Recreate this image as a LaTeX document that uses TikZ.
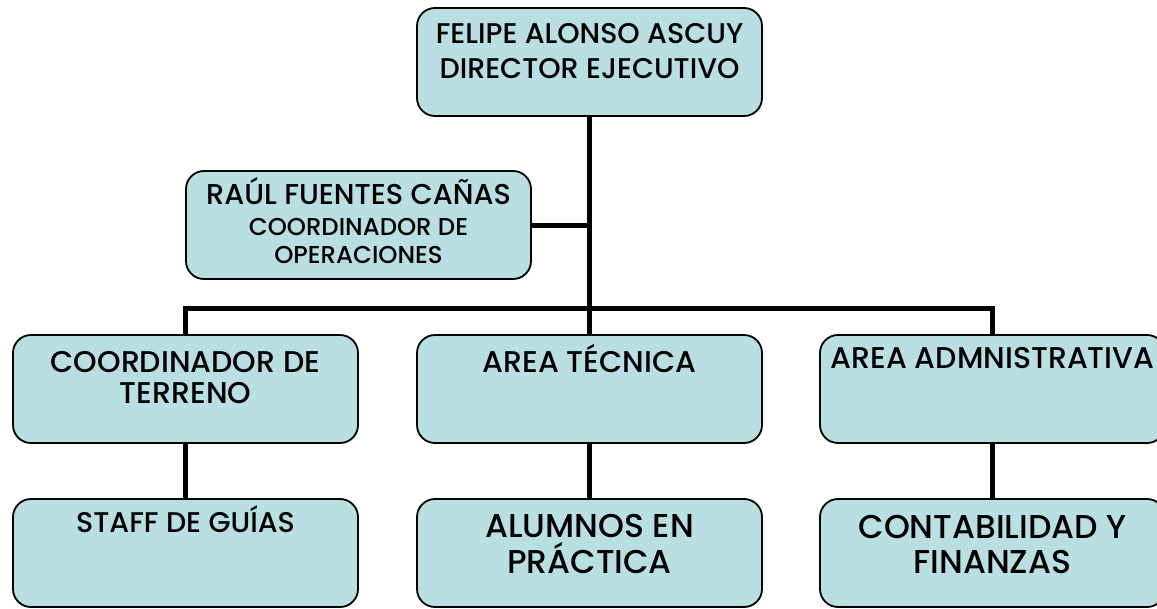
\documentclass[tikz,border=0pt]{standalone}
\usepackage{fontspec}
\setmainfont{Poppins}[UprightFont=* Medium]
\definecolor{boxfill}{RGB}{185,223,227}
\tikzset{
  orgbox/.style={draw=black, fill=boxfill, line width=1.8pt, rounded corners=18pt,
    minimum width=345pt, minimum height=108pt, inner sep=0pt, outer sep=0pt},
  conn/.style={draw=black, line width=5pt, line join=miter},
  txt/.style={anchor=base, inner sep=0pt, text=black},
  fa/.style={font=\fontsize{28.5}{34}\selectfont},
  fb/.style={font=\fontsize{28.7}{32}\selectfont},
  fc/.style={font=\fontsize{24.4}{28}\selectfont},
  fd/.style={font=\fontsize{30}{34}\selectfont},
  fe/.style={font=\fontsize{33}{36}\selectfont},
}
\begin{document}
\begin{tikzpicture}[x=1pt,y=-1pt]
\useasboundingbox (0,0) rectangle (1157,608);
% boxes
\node[orgbox] (top) at (589.5,62) {};
\node[orgbox] (raul) at (358.5,225) {};
\node[orgbox] (ct) at (185.5,389) {};
\node[orgbox] (at) at (589.5,389) {};
\node[orgbox] (aa) at (992.5,389) {};
\node[orgbox] (sg) at (185.5,553) {};
\node[orgbox] (ap) at (589.5,553) {};
\node[orgbox] (cf) at (992.5,553) {};
\coordinate (jn) at (589.5,308);
% connectors
\draw[conn] (top.south) -- (jn);
\draw[conn] (raul.east) -- (raul.east -| top.south);
\draw[conn] (ct.north) -- (ct.north |- jn) -- (aa.north |- jn) -- (aa.north);
\draw[conn] (at.north) -- (at.north |- jn);
\draw[conn] (ct.south) -- (sg.north);
\draw[conn] (at.south) -- (ap.north);
\draw[conn] (aa.south) -- (cf.north);
% texts
\node[txt,fa] (t1) at (589.5,43) {FELIPE ALONSO ASCUY};
\node[txt,fa] (t2) at (589.5,78) {DIRECTOR EJECUTIVO};
\node[txt,fb] (r1) at (358.5,204) {RAÚL FUENTES CAÑAS};
\node[txt,fc] (r2) at (358.5,235.5) {COORDINADOR DE};
\node[txt,fc] (r3) at (358.5,263.5) {OPERACIONES};
\node[txt,fd] (c1) at (185.5,372) {COORDINADOR DE};
\node[txt,fd] (c2) at (185.5,403.5) {TERRENO};
\node[txt,fd] (a1) at (589.5,372) {AREA TÉCNICA};
\node[txt,fd] (d1) at (992.5,368.5) {AREA ADMNISTRATIVA};
\node[txt,fa] (s1) at (185.5,532) {STAFF DE GUÍAS};
\node[txt,fe] (p1) at (589.5,537) {ALUMNOS EN};
\node[txt,fe] (p2) at (589.5,573) {PRÁCTICA};
\node[txt,fe] (f1) at (992.5,538) {CONTABILIDAD Y};
\node[txt,fe] (f2) at (992.5,573) {FINANZAS};
\end{tikzpicture}
\end{document}
